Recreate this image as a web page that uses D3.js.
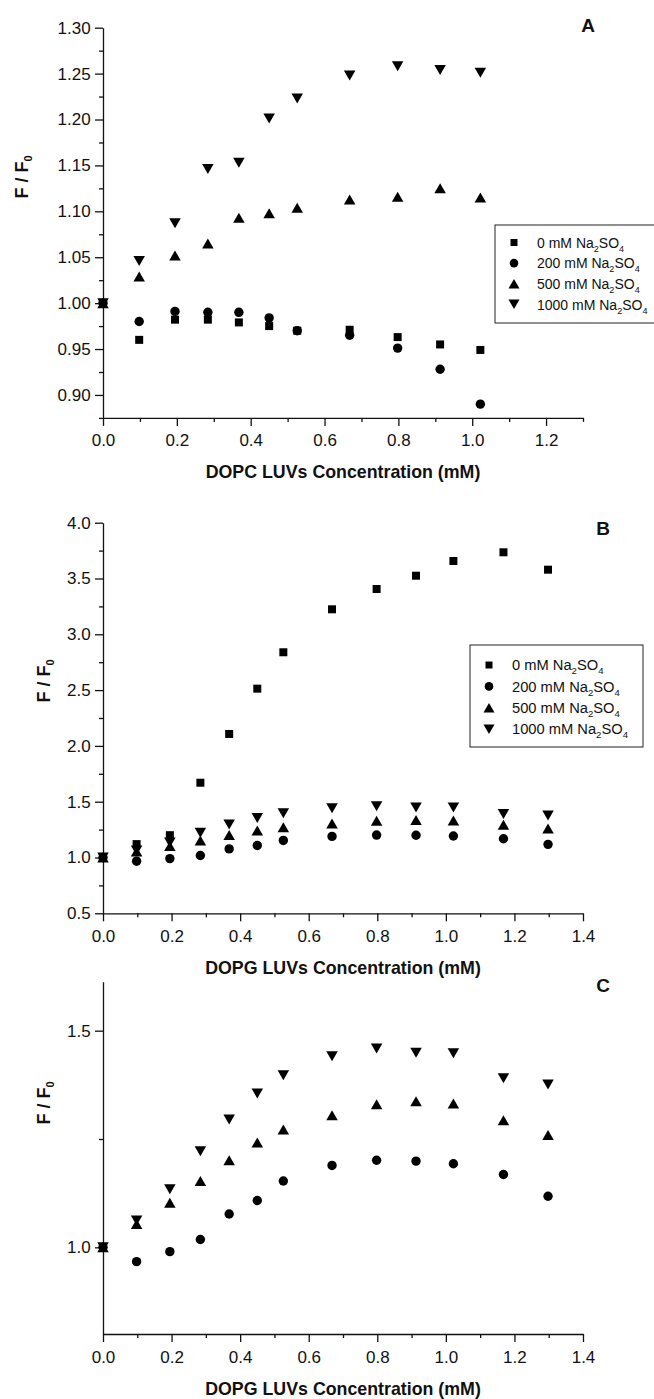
<!DOCTYPE html>
<html>
<head>
<meta charset="utf-8">
<script src="https://cdn.jsdelivr.net/npm/d3@7"></script>
<style>
    body { margin: 0; background: #fff; }
    svg { display: block; }
    text { font-family: "Liberation Sans", Arial, sans-serif; fill: #111; }
</style>
</head>
<body>
<div id="main"></div>
<script>
// lipid concentrations (mM)
const concDOPC = [0, 0.098, 0.195, 0.284, 0.368, 0.450, 0.526, 0.668, 0.798, 0.913, 1.022];
const concDOPG = [0, 0.098, 0.195, 0.284, 0.368, 0.450, 0.526, 0.668, 0.798, 0.913, 1.022, 1.168, 1.298];

// panel A, DOPC, F/F0
const dopc0 = [1.000, 0.960, 0.982, 0.982, 0.979, 0.975, 0.970, 0.971, 0.963, 0.955, 0.949];
const dopc200 = [1.000, 0.980, 0.991, 0.990, 0.990, 0.984, 0.970, 0.965, 0.951, 0.928, 0.890];
const dopc500 = [1.000, 1.029, 1.052, 1.065, 1.093, 1.098, 1.104, 1.113, 1.116, 1.125, 1.115];
const dopc1000 = [1.000, 1.046, 1.087, 1.146, 1.153, 1.201, 1.223, 1.248, 1.258, 1.254, 1.251];

// panels B and C, DOPG, F/F0
const dopg0 = [1.000, 1.12, 1.20, 1.67, 2.107, 2.513, 2.839, 3.224, 3.406, 3.525, 3.657, 3.735, 3.579];
const dopg200 = [1.000, 0.967, 0.990, 1.018, 1.077, 1.108, 1.153, 1.189, 1.201, 1.199, 1.193, 1.168, 1.118];
const dopg500 = [1.000, 1.054, 1.103, 1.153, 1.201, 1.242, 1.272, 1.305, 1.330, 1.337, 1.332, 1.293, 1.259];
const dopg1000 = [1.000, 1.062, 1.134, 1.222, 1.295, 1.355, 1.397, 1.441, 1.459, 1.449, 1.448, 1.390, 1.376];

const saltLevels = ["0", "200", "500", "1000"];

// tick labels
const xTicksA = [0, 0.2, 0.4, 0.6, 0.8, 1.0, 1.2];
const xTicksBC = [0, 0.2, 0.4, 0.6, 0.8, 1.0, 1.2, 1.4];
const yTicksA = [0.90, 0.95, 1.00, 1.05, 1.10, 1.15, 1.20, 1.25, 1.30];
const yTicksB = [0.5, 1.0, 1.5, 2.0, 2.5, 3.0, 3.5, 4.0];
const yTicksC = [1.0, 1.5];

const ctx = {
    w: 654,
    h: 1399,
    x0: 103,
    x1: 583,
    majorTick: 8,
    minorTick: 4,
    markerSize: { "0": 8, "200": 9.4, "500": 11.5, "1000": 11.5 },
    legendSize: { "0": 7, "200": 8.6, "500": 11, "1000": 11 },
};

// symbols drawn centred on their bounding box, size = width
const symSquare = { draw(c, s) { c.rect(-s / 2, -s / 2, s, s); } };
const symCircle = { draw(c, s) { c.moveTo(s / 2, 0); c.arc(0, 0, s / 2, 0, 2 * Math.PI); } };
const symUp = { draw(c, s) { let h = s * 0.87; c.moveTo(0, -h / 2); c.lineTo(s / 2, h / 2); c.lineTo(-s / 2, h / 2); c.closePath(); } };
const symDown = { draw(c, s) { let h = s * 0.87; c.moveTo(0, h / 2); c.lineTo(s / 2, -h / 2); c.lineTo(-s / 2, -h / 2); c.closePath(); } };
const SYMBOLS = { "0": symSquare, "200": symCircle, "500": symUp, "1000": symDown };

const panels = [
    {
        letter: "A", letterPos: [588, 32],
        conc: concDOPC,
        series: [dopc0, dopc200, dopc500, dopc1000],
        xDomain: [0, 1.3], xTicks: xTicksA,
        yDomain: [0.875, 1.30], yRange: [417.9, 27.7], yTicks: yTicksA, yFmt: ".2f",
        xTitle: "DOPC LUVs Concentration (mM)",
        yTitlePos: [28, 177],
        legend: { x: 495, y: 225, w: 175, h: 98, symX: 514, textX: 537, row0: 242.5, rowH: 20.6, font: 14 },
    },
    {
        letter: "B", letterPos: [603, 535],
        conc: concDOPG,
        series: [dopg0, dopg200, dopg500, dopg1000],
        xDomain: [0, 1.4], xTicks: xTicksBC,
        yDomain: [0.5, 4.0], yRange: [913.3, 522.7], yTicks: yTicksB, yFmt: ".1f",
        xTitle: "DOPG LUVs Concentration (mM)",
        yTitlePos: [50, 681],
        legend: { x: 470, y: 645, w: 173, h: 102, symX: 489, textX: 512, row0: 665, rowH: 21.4, font: 14.7 },
    },
    {
        letter: "C", letterPos: [603, 992],
        conc: concDOPG,
        series: [null, dopg200, dopg500, dopg1000],
        xDomain: [0, 1.4], xTicks: xTicksBC,
        yDomain: [0.8, 1.613], yRange: [1334, 981.7], yTicks: yTicksC, yFmt: ".1f",
        xTitle: "DOPG LUVs Concentration (mM)",
        yTitlePos: [50, 1103],
        legend: null,
    },
];

// minor ticks halfway between majors, plus the ones at the ends if inside the domain
function minorTicks(majors, domain) {
    let step = majors[1] - majors[0];
    let out = [];
    let cand = [majors[0] - step / 2];
    majors.forEach((m) => cand.push(m + step / 2));
    cand.forEach((v) => {
        if (v >= domain[0] - 1e-9 && v <= domain[1] + 1e-9) out.push(v);
    });
    return out;
}

function drawPanel(svg, p) {
    let g = svg.append("g");
    let x = d3.scaleLinear().domain(p.xDomain).range([ctx.x0, ctx.x1]);
    let y = d3.scaleLinear().domain(p.yDomain).range(p.yRange);
    let axisY = p.yRange[0];

    // x axis
    let xg = g.append("g").attr("transform", `translate(0,${axisY})`);
    xg.call(d3.axisBottom(x).tickValues(minorTicks(p.xTicks, p.xDomain)).tickSize(ctx.minorTick).tickFormat(""))
        .call((a) => a.select(".domain").remove());
    xg.append("g")
        .call(d3.axisBottom(x).tickValues(p.xTicks).tickSize(ctx.majorTick).tickSizeOuter(0).tickPadding(8.5).tickFormat(d3.format(".1f")));

    // y axis
    let yg = g.append("g").attr("transform", `translate(${ctx.x0},0)`);
    yg.call(d3.axisLeft(y).tickValues(minorTicks(p.yTicks, p.yDomain)).tickSize(ctx.minorTick).tickFormat(""))
        .call((a) => a.select(".domain").remove());
    yg.append("g")
        .call(d3.axisLeft(y).tickValues(p.yTicks).tickSize(ctx.majorTick).tickSizeOuter(0).tickPadding(4.3).tickFormat(d3.format(p.yFmt)));

    g.selectAll(".domain, .tick line").attr("stroke", "#111").attr("stroke-width", 1.3);
    g.selectAll(".tick text").attr("font-size", 17).attr("fill", "#111")
        .style("font-family", '"Liberation Sans", Arial, sans-serif');

    // titles
    g.append("text")
        .attr("x", (ctx.x0 + ctx.x1) / 2)
        .attr("y", axisY + 60.5)
        .attr("text-anchor", "middle")
        .attr("font-size", 17.8)
        .attr("font-weight", "bold")
        .text(p.xTitle);

    let yt = g.append("text")
        .attr("transform", `translate(${p.yTitlePos[0]},${p.yTitlePos[1]}) rotate(-90)`)
        .attr("text-anchor", "middle")
        .attr("font-size", 18)
        .attr("font-weight", "bold");
    yt.append("tspan").text("F / F");
    yt.append("tspan").attr("font-size", 11).attr("dy", 4).text("0");

    g.append("text")
        .attr("x", p.letterPos[0])
        .attr("y", p.letterPos[1])
        .attr("text-anchor", "middle")
        .attr("font-size", 19)
        .attr("font-weight", "bold")
        .text(p.letter);

    // data points
    p.series.forEach((vals, si) => {
        if (!vals) return;
        let key = saltLevels[si];
        g.append("g").selectAll("path")
            .data(vals)
            .enter()
            .append("path")
            .attr("transform", (d, i) => `translate(${x(p.conc[i])},${y(d)})`)
            .attr("d", d3.symbol().type(SYMBOLS[key]).size(ctx.markerSize[key]))
            .attr("fill", "#000");
    });

    // legend
    if (p.legend) {
        let L = p.legend;
        let lg = g.append("g");
        lg.append("rect")
            .attr("x", L.x).attr("y", L.y)
            .attr("width", L.w).attr("height", L.h)
            .attr("fill", "#fff").attr("stroke", "#222").attr("stroke-width", 1);
        saltLevels.forEach((key, i) => {
            let cy = L.row0 + i * L.rowH;
            lg.append("path")
                .attr("transform", `translate(${L.symX},${cy})`)
                .attr("d", d3.symbol().type(SYMBOLS[key]).size(ctx.legendSize[key]))
                .attr("fill", "#000");
            let t = lg.append("text")
                .attr("x", L.textX)
                .attr("y", cy + 5.2)
                .attr("font-size", L.font);
            t.append("tspan").text(`${key} mM Na`);
            t.append("tspan").attr("font-size", L.font * 0.65).attr("dy", 4).text("2");
            t.append("tspan").attr("dy", -4).text("SO");
            t.append("tspan").attr("font-size", L.font * 0.65).attr("dy", 4).text("4");
        });
    }
}

function createViz() {
    let svg = d3.select("#main").append("svg")
        .attr("width", ctx.w)
        .attr("height", ctx.h);
    panels.forEach((p) => drawPanel(svg, p));
}

createViz();
</script>
</body>
</html>
